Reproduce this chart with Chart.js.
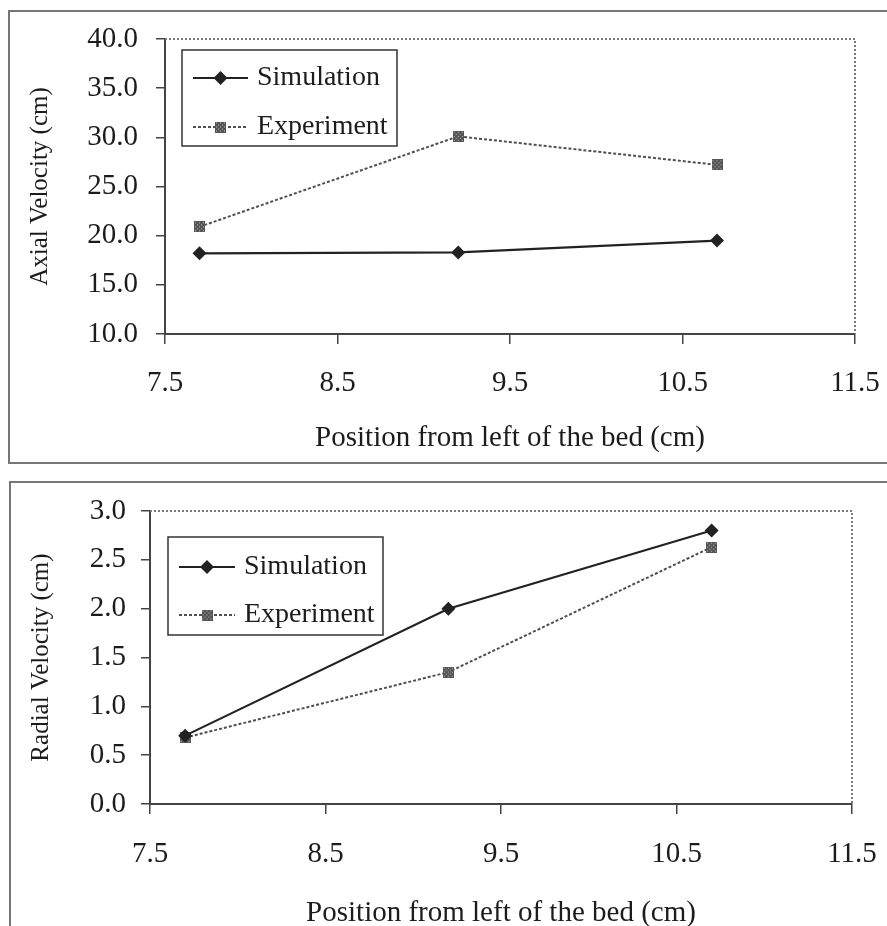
<!DOCTYPE html>
<html>
<head>
<meta charset="utf-8">
<script src="https://cdn.jsdelivr.net/npm/chart.js@4.4.0/dist/chart.umd.min.js"></script>
<style>
    body { margin: 0; background: #fff; width: 887px; height: 926px; overflow: hidden; position: relative; }
    .frame { position: absolute; border: 2px solid #777; box-sizing: border-box; }
    .box { position: absolute; }
</style>
</head>
<body>
<div class="frame" style="left:8px; top:10px; width:890px; height:454px;"></div>
<div class="frame" style="left:9px; top:481px; width:890px; height:460px;"></div>
<div class="box" style="left:11px; top:13px; width:876px; height:449px;"><canvas id="axial-chart"></canvas></div>
<div class="box" style="left:12px; top:484px; width:875px; height:442px;"><canvas id="radial-chart"></canvas></div>
<script>
// Data
const positions = [7.7, 9.2, 10.7];
const axialSimulation = [18.2, 18.3, 19.5];
const axialExperiment = [20.9, 30.1, 27.2];
const radialSimulation = [0.70, 2.00, 2.80];
const radialExperiment = [0.68, 1.35, 2.63];
const xTicks = [7.5, 8.5, 9.5, 10.5, 11.5];
const axialTicks = [10, 15, 20, 25, 30, 35, 40];
const radialTicks = [0, 0.5, 1, 1.5, 2, 2.5, 3];
const seriesNames = ['Simulation', 'Experiment'];

const SERIF = '"Liberation Serif", "Times New Roman", serif';
const TEXT = '#1c1c1c';

// Small checkered square used for the experiment markers
function makeCheckerMarker() {
    const c = document.createElement('canvas');
    c.width = 11;
    c.height = 11;
    const g = c.getContext('2d');
    g.fillStyle = '#555';
    g.fillRect(0, 0, 11, 11);
    g.fillStyle = '#bdbdbd';
    for (let i = 0; i < 11; i += 2) {
        for (let j = 0; j < 11; j += 2) {
            if (((i + j) / 2) % 2 === 0) g.fillRect(i + 1, j + 1, 1, 1);
        }
    }
    return c;
}
const checkerMarker = makeCheckerMarker();

// Dotted plot-area border (top & right) plus inner legend box
const frameAndLegend = {
    id: 'frameAndLegend',
    beforeDatasetsDraw(chart) {
        const { ctx, chartArea: a } = chart;
        ctx.save();
        ctx.strokeStyle = '#7a7a7a';
        ctx.lineWidth = 2;
        ctx.setLineDash([2, 2]);
        ctx.beginPath();
        ctx.moveTo(a.left, a.top);
        ctx.lineTo(a.right, a.top);
        ctx.lineTo(a.right, a.bottom);
        ctx.stroke();
        ctx.restore();
    },
    afterDraw(chart, args, opts) {
        const { ctx, chartArea: a } = chart;
        const x = a.left + opts.dx, y = a.top + opts.dy;
        ctx.save();
        ctx.strokeStyle = '#333';
        ctx.lineWidth = 1.5;
        ctx.strokeRect(x, y, opts.w, opts.h);
        chart.data.datasets.forEach((ds, i) => {
            const ry = y + opts.firstRow + i * opts.rowGap;
            const lx = x + opts.lineStart;
            ctx.strokeStyle = ds.borderColor;
            ctx.lineWidth = ds.borderWidth;
            ctx.setLineDash(ds.borderDash || []);
            ctx.beginPath();
            ctx.moveTo(lx, ry);
            ctx.lineTo(lx + opts.lineLen, ry);
            ctx.stroke();
            ctx.setLineDash([]);
            const mx = lx + opts.lineLen / 2;
            if (ds.pointStyle === 'rectRot') {
                const r = ds.pointRadius;
                ctx.fillStyle = ds.pointBackgroundColor;
                ctx.beginPath();
                ctx.moveTo(mx, ry - r);
                ctx.lineTo(mx + r, ry);
                ctx.lineTo(mx, ry + r);
                ctx.lineTo(mx - r, ry);
                ctx.closePath();
                ctx.fill();
            } else {
                ctx.drawImage(checkerMarker, mx - 5.5, ry - 5.5);
            }
            ctx.fillStyle = TEXT;
            ctx.font = '28px ' + SERIF;
            ctx.textBaseline = 'middle';
            ctx.fillText(ds.label, lx + opts.lineLen + 9, ry);
        });
        ctx.restore();
    }
};

function buildDatasets(sim, exp) {
    return [
        {
            label: seriesNames[0],
            data: positions.map((p, i) => ({ x: p, y: sim[i] })),
            borderColor: '#222',
            borderWidth: 2.2,
            pointStyle: 'rectRot',
            pointRadius: 7,
            pointBackgroundColor: '#222',
            pointBorderWidth: 0,
            tension: 0
        },
        {
            label: seriesNames[1],
            data: positions.map((p, i) => ({ x: p, y: exp[i] })),
            borderColor: '#4f4f4f',
            borderWidth: 2,
            borderDash: [3, 2],
            pointStyle: checkerMarker,
            pointRadius: 6,
            tension: 0
        }
    ];
}

// Scales ask for extra room around edge labels; the plot area here is fixed instead
function clearScalePadding(s) {
    s.paddingTop = 0;
    s.paddingBottom = 0;
    s.paddingLeft = 0;
    s.paddingRight = 0;
}

function makeChart(id, cfg) {
    return new Chart(document.getElementById(id), {
        type: 'line',
        data: { datasets: buildDatasets(cfg.sim, cfg.exp) },
        options: {
            responsive: true,
            maintainAspectRatio: false,
            animation: false,
            layout: {
                autoPadding: false,
                padding: { left: 0, top: cfg.padTop, right: cfg.padRight, bottom: 0 }
            },
            plugins: {
                legend: { display: false },
                tooltip: { enabled: false },
                frameAndLegend: cfg.legend
            },
            scales: {
                x: {
                    type: 'linear',
                    min: xTicks[0],
                    max: xTicks[xTicks.length - 1],
                    afterBuildTicks: s => { s.ticks = xTicks.map(v => ({ value: v })); },
                    afterFit: s => { s.height = cfg.xHeight; clearScalePadding(s); },
                    grid: { drawOnChartArea: false, drawTicks: true, tickLength: 10, color: '#444', lineWidth: 1.5 },
                    border: { color: '#444', width: 2 },
                    ticks: {
                        padding: cfg.xTickPad,
                        color: TEXT,
                        font: { family: SERIF, size: 29 },
                        maxRotation: 0,
                        callback: v => v.toFixed(1)
                    },
                    title: {
                        display: true,
                        text: 'Position from left of the bed (cm)',
                        color: TEXT,
                        font: { family: SERIF, size: 29, lineHeight: 1 },
                        padding: { top: 0, bottom: cfg.xTitlePad }
                    }
                },
                y: {
                    min: cfg.yTicks[0],
                    max: cfg.yTicks[cfg.yTicks.length - 1],
                    afterBuildTicks: s => { s.ticks = cfg.yTicks.map(v => ({ value: v })); },
                    afterFit: s => { s.width = cfg.yWidth; clearScalePadding(s); },
                    grid: { drawOnChartArea: false, drawTicks: true, tickLength: 9, color: '#444', lineWidth: 1.5 },
                    border: { color: '#444', width: 2 },
                    ticks: {
                        padding: cfg.yTickPad,
                        color: TEXT,
                        font: { family: SERIF, size: 29 },
                        callback: v => v.toFixed(1)
                    },
                    title: {
                        display: true,
                        text: cfg.yTitle,
                        color: TEXT,
                        font: { family: SERIF, size: 25, lineHeight: 1 },
                        padding: { top: cfg.yTitlePad, bottom: 0 }
                    }
                }
            }
        },
        plugins: [frameAndLegend]
    });
}

makeChart('axial-chart', {
    sim: axialSimulation,
    exp: axialExperiment,
    yTicks: axialTicks,
    yTitle: 'Axial Velocity (cm)',
    padTop: 26, padRight: 32,
    xHeight: 128, yWidth: 154,
    xTickPad: 22, yTickPad: 18,
    xTitlePad: 9, yTitlePad: 17,
    legend: { dx: 17, dy: 11, w: 215, h: 96, firstRow: 28, rowGap: 49, lineStart: 11, lineLen: 55 }
});

makeChart('radial-chart', {
    sim: radialSimulation,
    exp: radialExperiment,
    yTicks: radialTicks,
    yTitle: 'Radial Velocity (cm)',
    padTop: 27, padRight: 35,
    xHeight: 122, yWidth: 138,
    xTickPad: 23, yTickPad: 15,
    xTitlePad: -2, yTitlePad: 17,
    legend: { dx: 18, dy: 26, w: 215, h: 98, firstRow: 30, rowGap: 48, lineStart: 11, lineLen: 56 }
});
</script>
</body>
</html>
